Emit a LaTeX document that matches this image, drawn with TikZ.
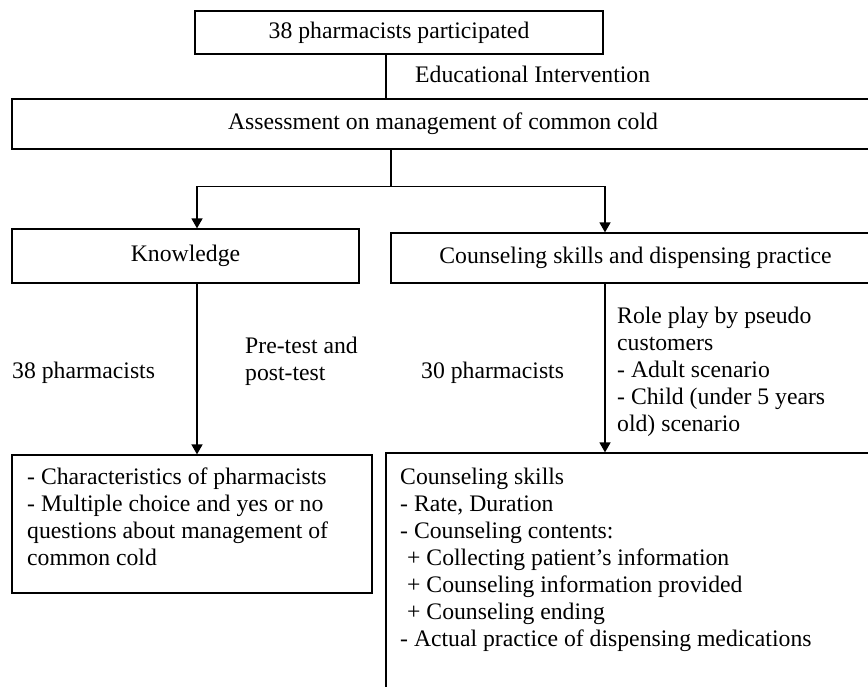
\documentclass[tikz,border=0pt]{standalone}
\usepackage{fontspec}
\setmainfont{Liberation Serif}
\usetikzlibrary{arrows.meta}
\begin{document}
\begin{tikzpicture}[x=1pt,y=1pt,
  txt/.style={font=\fontsize{23.7}{27}\selectfont},
  box/.style={txt, draw=black, line width=1.2pt, rectangle, inner sep=0pt},
  lbl/.style={txt, inner sep=0pt},
  mlbl/.style={lbl, align=left, anchor=north west},
  conn/.style={line width=1.5pt},
  arr/.style={conn, -{Triangle[length=10pt,width=11pt]}}]
\useasboundingbox (0,0) rectangle (868,-687);
\clip (0,0) rectangle (868,-687);
% column positions
\coordinate (cTop) at (386,0);
\coordinate (cMid) at (391,0);
\coordinate (cL) at (197,0);
\coordinate (cR) at (605,0);
% boxes
\node[box, minimum width=408pt, minimum height=43pt] (top) at (399,-32.5) {38 pharmacists participated};
\node[box, minimum width=862pt, minimum height=50pt] (assess) at (443,-124) {Assessment on management of common cold};
\node[box, minimum width=347pt, minimum height=54pt] (know) at (185.5,-256) {Knowledge};
\node[box, minimum width=489pt, minimum height=50pt] (couns) at (635.5,-258) {Counseling skills and dispensing practice};
\node[box, minimum width=360pt, minimum height=138pt] (kres) at (192,-524) {};
\node[box, minimum width=500pt, minimum height=280pt] (cres) at (636,-593) {};
% connectors
\draw[conn] (top.south -| cTop) -- (assess.north -| cTop);
\draw[conn] (assess.south -| cMid) -- ++(0,-37) coordinate (split);
\draw[arr] (split) -| (know.north -| cL);
\draw[arr] (split) -| (couns.north -| cR);
\draw[arr] (know.south -| cL) -- (kres.north -| cL);
\draw[arr] (couns.south -| cR) -- (cres.north -| cR);
% labels
\node[lbl, anchor=base west] (edu) at (415,-83) {Educational Intervention};
\node[lbl, anchor=base west] (n38) at (12,-378) {38 pharmacists};
\node[mlbl] (prepost) at (245,-335) {\rule{0pt}{18pt}Pre-test and\\post-test};
\node[lbl, anchor=base west] (n30) at (421,-378) {30 pharmacists};
\node[mlbl] (role) at (617,-305) {\rule{0pt}{18pt}Role play by pseudo\\customers\\- Adult scenario\\- Child (under 5 years\\old) scenario};
\node[mlbl] (klist) at (27,-466) {\rule{0pt}{18pt}- Characteristics of pharmacists\\- Multiple choice and yes or no\\questions about management of\\common cold};
\node[mlbl] (clist) at (400,-466) {\rule{0pt}{18pt}Counseling skills\\- Rate, Duration\\- Counseling contents:\\\hspace{7pt}+ Collecting patient’s information\\\hspace{7pt}+ Counseling information provided\\\hspace{7pt}+ Counseling ending\\- Actual practice of dispensing medications};
\end{tikzpicture}
\end{document}
